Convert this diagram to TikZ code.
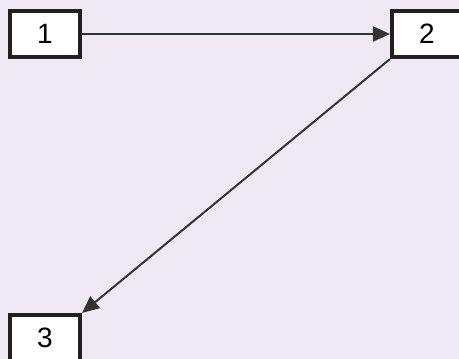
\documentclass[tikz,border=0pt]{standalone}
\usepackage{fontspec}
\setmainfont{Liberation Sans}
\usetikzlibrary{arrows.meta}
\definecolor{bgc}{HTML}{EFE9F4}
\definecolor{edge}{HTML}{231F20}
\definecolor{conn}{HTML}{333333}
\begin{document}
\begin{tikzpicture}[x=1pt,y=-1pt,
  boxnode/.style={draw=edge,fill=white,line width=3.6pt,minimum width=70.5pt,minimum height=46.5pt,inner sep=0pt,font=\fontsize{28}{28}\selectfont},
  link/.style={draw=conn,line width=2pt,-{Triangle[length=17pt,width=15pt]}}]
\fill[bgc] (0,0) rectangle (459,359);
\useasboundingbox (0,0) rectangle (459,359);
\node[boxnode] (n1) at (45,34) {1};
\node[boxnode] (n2) at (427,34) {2};
\node[boxnode] (n3) at (45,338) {3};
\draw[link] (n1) -- (n2);
\draw[link] (n2.south west) -- (n3.north east);
\end{tikzpicture}
\end{document}
